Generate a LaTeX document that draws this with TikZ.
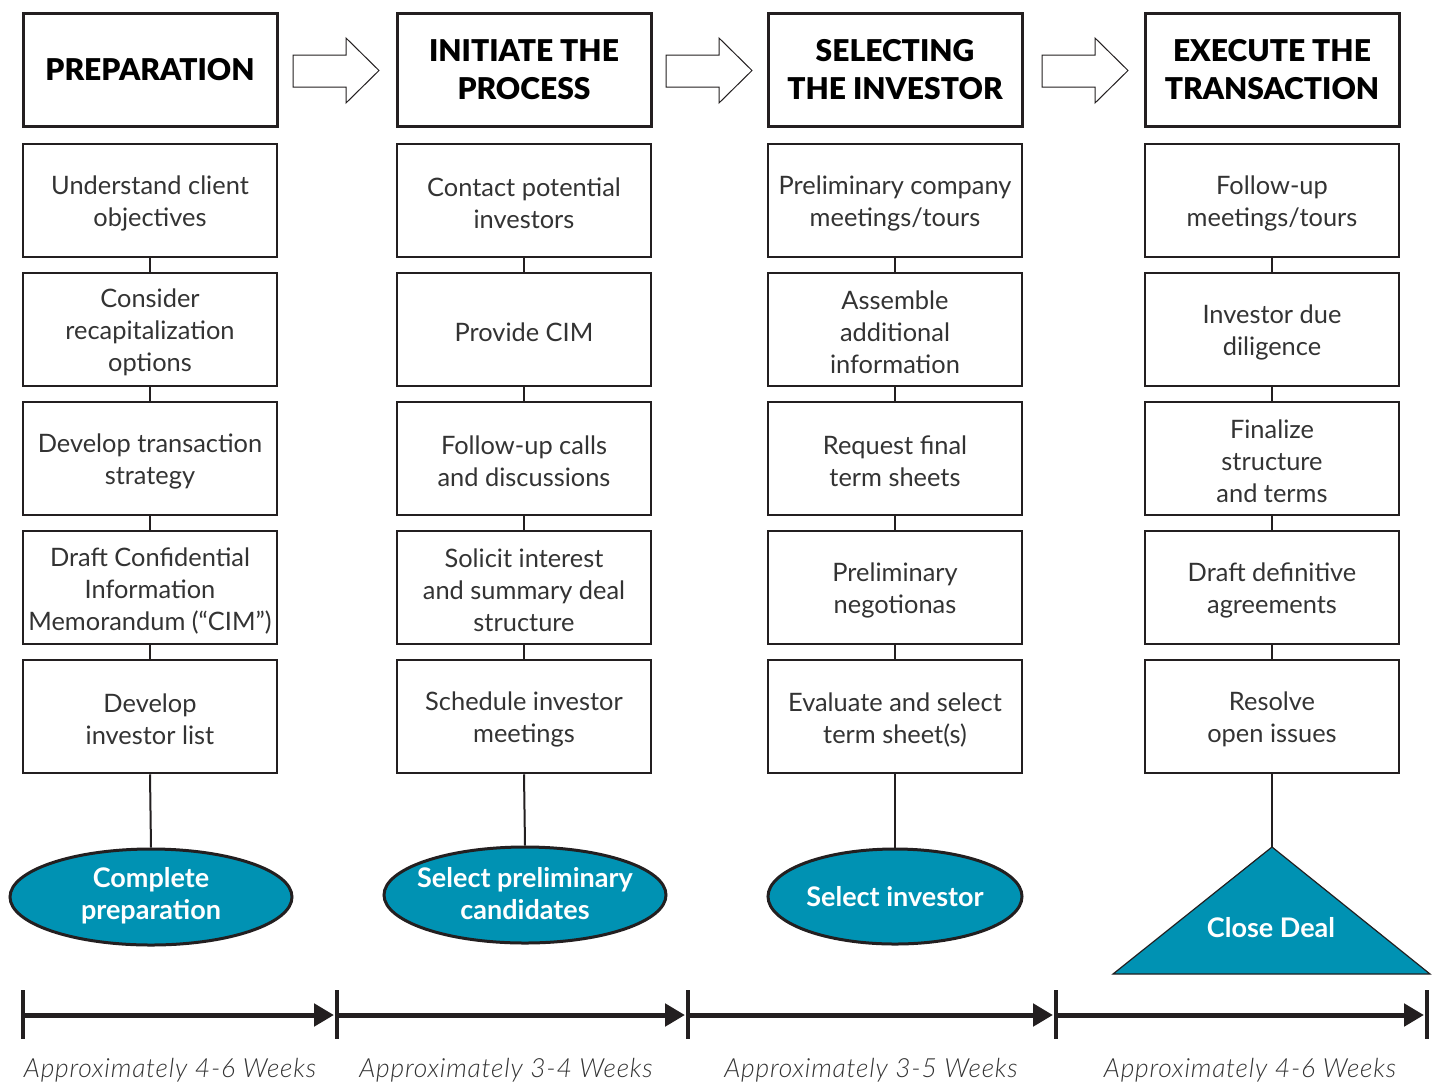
\documentclass[tikz,border=0pt]{standalone}
\usepackage{fontspec}
\setmainfont{Lato}
\IfFontExistsTF{Lato Light}{%
  \newfontfamily\weekfont{Lato}[UprightFont={* Light},ItalicFont={* Light Italic}]}{%
  \newfontfamily\weekfont{Lato}}
\IfFontExistsTF{Lato Black}{%
  \newfontfamily\headfont{Lato Black}\def\headsize{\fontsize{15}{19}\selectfont}}{%
  \newfontfamily\headfont{Lato}[UprightFont={* Bold}]\def\headsize{\fontsize{15.6}{19}\selectfont}}
\usetikzlibrary{arrows.meta,shapes.geometric}
\definecolor{lc}{HTML}{231F20}
\definecolor{tc}{HTML}{333333}
\definecolor{teal}{RGB}{0,146,179}
\tikzset{
  hdr/.style={draw=lc, line width=1.5pt, minimum width=127pt, minimum height=56.5pt, inner sep=0pt,
    align=center, text=black, font=\headfont\headsize},
  sub/.style={draw=lc, line width=1.25pt, minimum width=127pt, minimum height=56.5pt, inner sep=0pt},
  subtext/.style={align=center, text=tc, inner sep=0pt, font=\fontsize{12.7}{16}\selectfont},
  link/.style={draw=lc, line width=1pt},
  oval/.style={ellipse, draw=lc, line width=1.5pt, fill=teal, inner sep=0pt},
  ovaltext/.style={text=white, align=center, font=\bfseries\fontsize{13.5}{16}\selectfont},
  blockarrow/.style={draw=lc, line width=0.5pt, fill=white},
  tick/.style={draw=lc, line width=2pt},
  tline/.style={draw=lc, line width=2.5pt, -{Triangle[length=10pt,width=11pt]}},
  weeks/.style={text=tc, font=\weekfont\itshape\fontsize{13.2}{15}\selectfont\addfontfeatures{LetterSpace=3}, anchor=base},
}
\newcommand\stepbox[3]{%
  \node[sub] (#1) at #2 {};
  \node[subtext] (#1t) at ([yshift=-1.5pt]#1.center) {#3};}
\begin{document}
\begin{tikzpicture}[x=0.5pt,y=-0.5pt]
\useasboundingbox (0,0) rectangle (1434,1082);
% headers
\node[hdr] (h1) at (150,70) {PREPARATION};
\node[hdr] (h2) at (524,70) {INITIATE THE\\PROCESS};
\node[hdr] (h3) at (895,70) {SELECTING\\THE INVESTOR};
\node[hdr] (h4) at (1272,70) {EXECUTE THE\\TRANSACTION};
% block arrows
\foreach \xa in {293,666,1042}{
  \draw[blockarrow] (\xa,55) -- (\xa+53,55) -- (\xa+53,38) -- (\xa+86,70.5) -- (\xa+53,103) -- (\xa+53,87) -- (\xa,87) -- cycle;
}
% column 1
\stepbox{a1}{(150,200.5)}{Understand client\\objectives}
\stepbox{a2}{(150,329.5)}{Consider\\recapitalization\\options}
\stepbox{a3}{(150,458.5)}{Develop transaction\\strategy}
\stepbox{a4}{(150,587.5)}{Draft Confidential\\Information\\Memorandum (“CIM”)}
\stepbox{a5}{(150,716.5)}{Develop\\investor list}
% column 2
\stepbox{b1}{(524,200.5)}{Contact potential\\investors}
\stepbox{b2}{(524,329.5)}{Provide CIM}
\stepbox{b3}{(524,458.5)}{Follow-up calls\\and discussions}
\stepbox{b4}{(524,587.5)}{Solicit interest\\and summary deal\\structure}
\stepbox{b5}{(524,716.5)}{Schedule investor\\meetings}
% column 3
\stepbox{c1}{(895,200.5)}{Preliminary company\\meetings/tours}
\stepbox{c2}{(895,329.5)}{Assemble\\additional\\information}
\stepbox{c3}{(895,458.5)}{Request final\\term sheets}
\stepbox{c4}{(895,587.5)}{Preliminary\\negotionas}
\stepbox{c5}{(895,716.5)}{Evaluate and select\\term sheet(s)}
% column 4
\stepbox{d1}{(1272,200.5)}{Follow-up\\meetings/tours}
\stepbox{d2}{(1272,329.5)}{Investor due\\diligence}
\stepbox{d3}{(1272,458.5)}{Finalize\\structure\\and terms}
\stepbox{d4}{(1272,587.5)}{Draft definitive\\agreements}
\stepbox{d5}{(1272,716.5)}{Resolve\\open issues}
% links between boxes
\foreach \c in {a,b,c,d}{
  \foreach \i/\j in {1/2,2/3,3/4,4/5}{
    \draw[link] (\c\i.south) -- (\c\j.north);
  }
}
% milestones
\node[oval, minimum width=141pt, minimum height=48pt] (e1) at (151,897) {};
\node[ovaltext] (e1t) at ([yshift=0.5pt]e1.center) {Complete\\preparation};
\node[oval, minimum width=141pt, minimum height=48pt] (e2) at (525,895) {};
\node[ovaltext] (e2t) at ([yshift=0.5pt]e2.center) {Select preliminary\\candidates};
\node[oval, minimum width=127pt, minimum height=47.5pt] (e3) at (895,896.5) {};
\node[ovaltext] (e3t) at (e3) {Select investor};
\coordinate (apex) at (1272,847);
\coordinate (bl) at (1113,974);
\coordinate (br) at (1430,974);
\draw[draw=lc, line width=0.6pt, fill=teal] (apex) -- (br) -- (bl) -- cycle;
\node[ovaltext] (e4t) at (1271,928) {Close Deal};
\draw[link] (a5.south) -- (e1.north);
\draw[link] (b5.south) -- (e2.north);
\draw[link] (c5.south) -- (e3.north);
\draw[link] (d5.south) -- (apex);
% timeline
\coordinate (t0) at (23,1015);
\coordinate (t1) at (337,1015);
\coordinate (t2) at (688,1015);
\coordinate (t3) at (1056,1015);
\coordinate (t4) at (1427,1015);
\foreach \t in {t0,t1,t2,t3,t4}{
  \draw[tick] ([yshift=12.5pt]\t) -- ([yshift=-12pt]\t);
}
\draw[tline] (t0) -- ([xshift=-1.5pt]t1);
\draw[tline] (t1) -- ([xshift=-1.5pt]t2);
\draw[tline] (t2) -- ([xshift=-1.5pt]t3);
\draw[tline] (t3) -- ([xshift=-1.5pt]t4);
\node[weeks] (w1) at (170,1077) {Approximately 4-6 Weeks};
\node[weeks] (w2) at (506,1077) {Approximately 3-4 Weeks};
\node[weeks] (w3) at (871,1077) {Approximately 3-5 Weeks};
\node[weeks] (w4) at (1250,1077) {Approximately 4-6 Weeks};
\end{tikzpicture}
\end{document}
